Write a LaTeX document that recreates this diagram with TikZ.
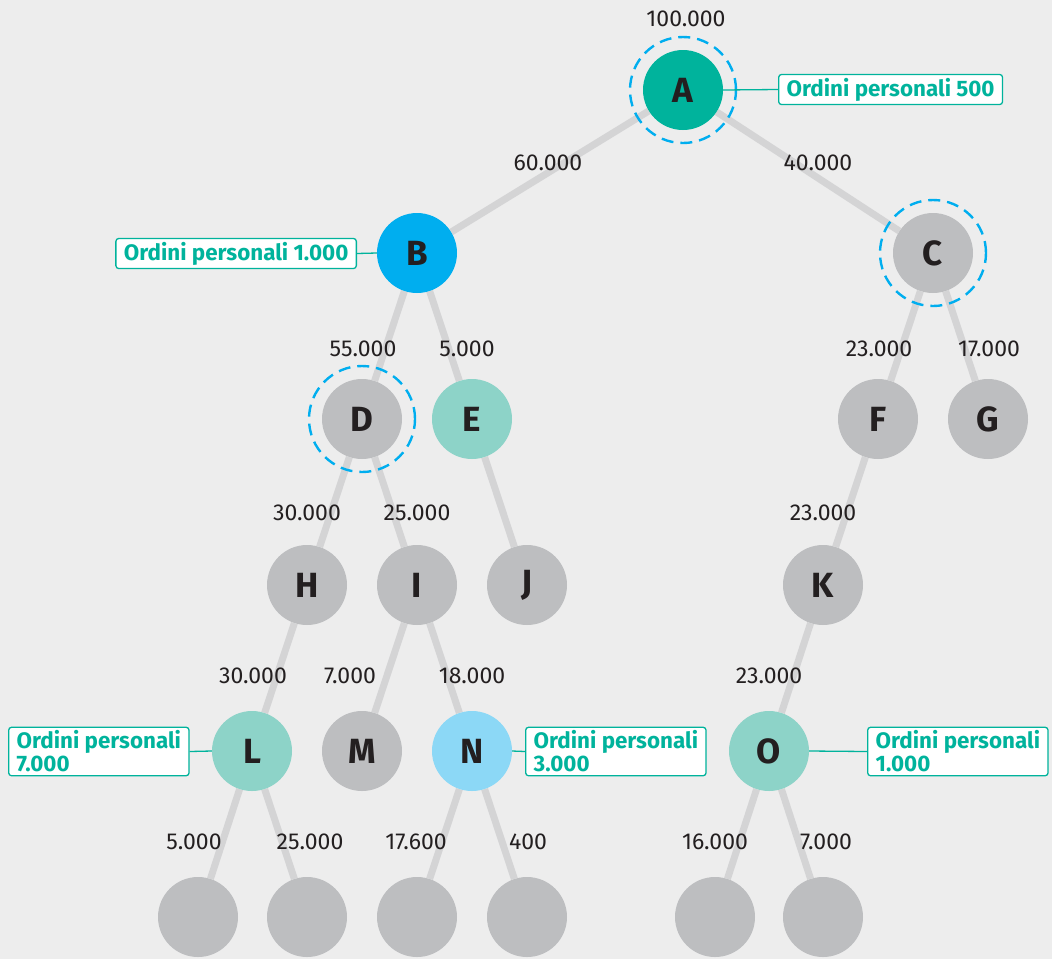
\documentclass[tikz,border=0pt]{standalone}
\usepackage{fontspec}
\setmainfont{Fira Sans}
\usepackage{tikz}
\usetikzlibrary{backgrounds}

\definecolor{bgcol}{HTML}{EDEDED}
\definecolor{nodegray}{HTML}{BDBEC0}
\definecolor{rootgreen}{HTML}{00B39C}
\definecolor{bblue}{HTML}{00AEEF}
\definecolor{lteal}{HTML}{8DD3C8}
\definecolor{lblue}{HTML}{8CD8F6}
\definecolor{edgecol}{HTML}{D4D4D5}
\definecolor{textdark}{HTML}{231F20}

\begin{document}
\begin{tikzpicture}[x=1pt, y=-1pt]

		\tikzstyle{member}=[circle, fill=nodegray, minimum size=80pt, inner sep=0pt,
		font=\fontsize{35}{35}\selectfont\bfseries, text=textdark]
		\tikzstyle{ring}=[circle, draw=bblue, line width=2.4pt, dash pattern=on 12pt off 7pt,
		minimum size=106pt, inner sep=0pt]
		\tikzstyle{amount}=[font=\fontsize{23}{23}\selectfont, text=textdark]
		\tikzstyle{callout}=[draw=rootgreen, fill=white, line width=1.3pt, rounded corners=3pt,
		anchor=west, align=left, inner xsep=8pt, inner ysep=3.5pt, text=rootgreen,
		font=\fontsize{22.4}{23}\selectfont\bfseries]
		\tikzstyle{link}=[draw=edgecol, line width=7pt]

		\useasboundingbox (0,0) rectangle (1052,959);

		% Top levels
		\node[member, fill=rootgreen] (A) at (683,90) {A};
		\node[member, fill=bblue] (B) at (417,253) {B};
		\node[member] (C) at (933,253) {C};

		\node[member] (D) at (362,419) {D};
		\node[member, fill=lteal] (E) at (472,419) {E};
		\node[member] (F) at (878,419) {F};
		\node[member] (G) at (988,419) {G};

		\node[member] (H) at (307,585) {H};
		\node[member] (I) at (417,585) {I};
		\node[member] (J) at (527,585) {J};
		\node[member] (K) at (823,585) {K};

		\node[member, fill=lteal] (L) at (252,751) {L};
		\node[member] (M) at (362,751) {M};
		\node[member, fill=lblue] (N) at (472,751) {N};
		\node[member, fill=lteal] (O) at (769,751) {O};

		% Bottom row
		\node[member] (L1) at (198,917) {};
		\node[member] (L2) at (307,917) {};
		\node[member] (N1) at (417,917) {};
		\node[member] (N2) at (527,917) {};
		\node[member] (O1) at (715,917) {};
		\node[member] (O2) at (823,917) {};

		% Dashed rings
		\node[ring] (Aring) at (A) {};
		\node[ring] (Cring) at (C) {};
		\node[ring] (Dring) at (D) {};

		% Links
		\begin{scope}[on background layer]
		\fill[bgcol] (0,0) rectangle (1052,959);
		\draw[link] (A) -- (B);
		\draw[link] (A) -- (C);
		\draw[link] (B) -- (D);
		\draw[link] (B) -- (E);
		\draw[link] (C) -- (F);
		\draw[link] (C) -- (G);
		\draw[link] (D) -- (H);
		\draw[link] (D) -- (I);
		\draw[link] (E) -- (J);
		\draw[link] (F) -- (K);
		\draw[link] (H) -- (L);
		\draw[link] (I) -- (M);
		\draw[link] (I) -- (N);
		\draw[link] (K) -- (O);
		\draw[link] (L) -- (L1);
		\draw[link] (L) -- (L2);
		\draw[link] (N) -- (N1);
		\draw[link] (N) -- (N2);
		\draw[link] (O) -- (O1);
		\draw[link] (O) -- (O2);
		\end{scope}

		% Amounts
		\node[amount] (vA) at (686,19) {100.000};
		\node[amount] (vAB) at (548,163) {60.000};
		\node[amount] (vAC) at (818,163) {40.000};
		\node[amount] (vBD) at (363,349) {55.000};
		\node[amount] (vBE) at (467,349) {5.000};
		\node[amount] (vCF) at (879,349) {23.000};
		\node[amount] (vCG) at (989,349) {17.000};
		\node[amount] (vDH) at (307,513) {30.000};
		\node[amount] (vDI) at (417,513) {25.000};
		\node[amount] (vFK) at (823,513) {23.000};
		\node[amount] (vHL) at (253,676) {30.000};
		\node[amount] (vIM) at (350,676) {7.000};
		\node[amount] (vIN) at (472,676) {18.000};
		\node[amount] (vKO) at (769,676) {23.000};
		\node[amount] (vL1) at (194,842) {5.000};
		\node[amount] (vL2) at (310,842) {25.000};
		\node[amount] (vN1) at (416,842) {17.600};
		\node[amount] (vN2) at (528,842) {400};
		\node[amount] (vO1) at (715,842) {16.000};
		\node[amount] (vO2) at (826,842) {7.000};

		% Personal orders
		\node[callout] (pA) at (778,89.5) {Ordini personali 500};
		\node[callout, anchor=east] (pB) at (357,253.5) {Ordini personali 1.000};
		\node[callout] (pL) at (8,751.5) {Ordini personali\\7.000};
		\node[callout] (pN) at (525,751.5) {Ordini personali\\3.000};
		\node[callout] (pO) at (867,751.5) {Ordini personali\\1.000};

		\draw[rootgreen, line width=1.3pt] (A.east) -- (pA.west);
		\draw[rootgreen, line width=1.3pt] (B.west) -- (pB.east);
		\draw[rootgreen, line width=1.3pt] (L.west) -- (pL.east);
		\draw[rootgreen, line width=1.3pt] (N.east) -- (pN.west);
		\draw[rootgreen, line width=1.3pt] (O.east) -- (pO.west);

\end{tikzpicture}
\end{document}
